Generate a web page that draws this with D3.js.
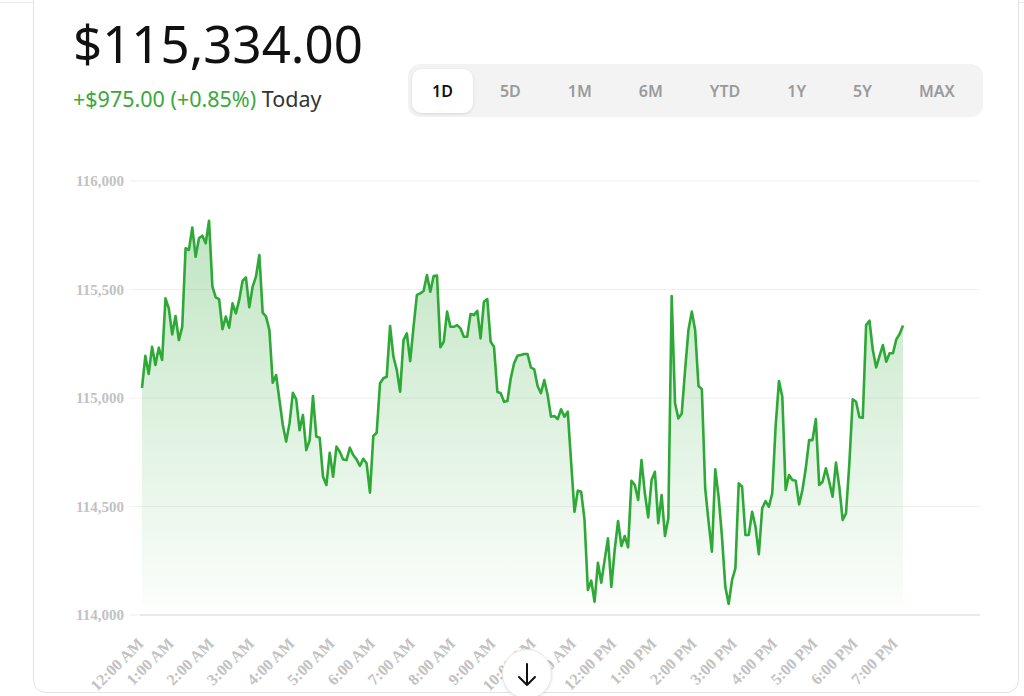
<!DOCTYPE html>
<html>
<head>
<meta charset="utf-8">
<script src="https://d3js.org/d3.v7.min.js"></script>
<style>
  body { margin: 0; background: #fff; }
  svg { display: block; }
</style>
</head>
<body>
<div id="chart"></div>
<script>
// 1D snapshot, one price every 5 minutes starting 12:15 AM
var startMinute = 15;
var stepMinutes = 5;
var prices = [
  115047, 115194, 115111, 115236, 115152, 115232, 115175, 115459, 115413, 115293,
  115378, 115267, 115328, 115690, 115682, 115786, 115651, 115736, 115748, 115713,
  115817, 115513, 115464, 115456, 115317, 115375, 115324, 115436, 115390, 115452,
  115540, 115556, 115418, 115513, 115559, 115659, 115393, 115375, 115313, 115070,
  115106, 114991, 114876, 114799, 114883, 115024, 114994, 114852, 114922, 114760,
  114806, 115009, 114822, 114817, 114637, 114599, 114748, 114637, 114776, 114752,
  114717, 114714, 114771, 114737, 114717, 114687, 114720, 114699, 114564, 114825,
  114840, 115068, 115091, 115098, 115332, 115190, 115129, 115029, 115267, 115298,
  115170, 115328, 115475, 115482, 115493, 115567, 115490, 115562, 115564, 115234,
  115259, 115398, 115328, 115328, 115336, 115321, 115282, 115282, 115387, 115382,
  115402, 115275, 115444, 115456, 115259, 115236, 115029, 115022, 114983, 114986,
  115091, 115160, 115195, 115198, 115203, 115203, 115141, 115132, 115055, 115022,
  115083, 115014, 114914, 114917, 114903, 114948, 114914, 114937, 114706, 114476,
  114573, 114568, 114438, 114115, 114158, 114061, 114241, 114149, 114253, 114353,
  114130, 114300, 114433, 114318, 114364, 114312, 114619, 114599, 114530, 114714,
  114561, 114450, 114622, 114660, 114423, 114553, 114364, 114446, 115470, 114976,
  114906, 114929, 115129, 115313, 115398, 115313, 115055, 115041, 114584, 114430,
  114292, 114671, 114545, 114361, 114130, 114051, 114161, 114215, 114607, 114591,
  114369, 114369, 114476, 114407, 114280, 114492, 114525, 114499, 114561, 114868,
  115078, 115006, 114576, 114645, 114622, 114619, 114510, 114576, 114676, 114806,
  114806, 114903, 114599, 114614, 114676, 114614, 114545, 114702, 114591, 114438,
  114469, 114699, 114994, 114983, 114911, 114909, 115336, 115356, 115221, 115141,
  115194, 115244, 115167, 115206, 115206, 115270, 115295, 115334
];

var yTicks = [114000, 114500, 115000, 115500, 116000];
var hourTicks = [15, 60, 120, 180, 240, 300, 360, 420, 480, 540, 600,
                 660, 720, 780, 840, 900, 960, 1020, 1080, 1140];
var hourLabels = ["12:00 AM", "1:00 AM", "2:00 AM", "3:00 AM", "4:00 AM",
                  "5:00 AM", "6:00 AM", "7:00 AM", "8:00 AM", "9:00 AM",
                  "10:00 AM", "11:00 AM", "12:00 PM", "1:00 PM", "2:00 PM",
                  "3:00 PM", "4:00 PM", "5:00 PM", "6:00 PM", "7:00 PM"];
var ranges = ["1D", "5D", "1M", "6M", "YTD", "1Y", "5Y", "MAX"];
var lastPrice = 115334;
var dayChange = 975;
var dayChangePct = 0.85;

var green = "#2ea836";
var width = 1024, height = 696;

var svg = d3.select("#chart").append("svg")
  .attr("width", width).attr("height", height);

var defs = svg.append("defs");
var shadow = defs.append("filter").attr("id", "soft")
  .attr("x", "-30%").attr("y", "-30%").attr("width", "160%").attr("height", "160%");
shadow.append("feDropShadow").attr("dx", 0).attr("dy", 1)
  .attr("stdDeviation", 1.5).attr("flood-color", "#000").attr("flood-opacity", 0.12);

// page frame
svg.append("line")
  .attr("x1", 0).attr("x2", width).attr("y1", 2.5).attr("y2", 2.5)
  .attr("stroke", "#ececec");
svg.append("rect")
  .attr("x", 33.5).attr("y", -20).attr("width", 985).attr("height", 712.5)
  .attr("rx", 12).attr("fill", "#fff").attr("stroke", "#e3e3e3");

// header
var money = d3.format(",.2f");
svg.append("text")
  .attr("x", 73).attr("y", 63)
  .style("font-family", "'Noto Sans', sans-serif")
  .style("font-size", "51px").attr("fill", "#111")
  .text("$" + money(lastPrice));

var sub = svg.append("text")
  .attr("x", 73).attr("y", 107)
  .style("font-family", "'Noto Sans', sans-serif")
  .style("font-size", "21.5px");
sub.append("tspan").attr("fill", "#3aa83c")
  .text("+$" + money(dayChange) + " (+" + dayChangePct.toFixed(2) + "%)");
sub.append("tspan").attr("fill", "#333").text(" Today");

// range tabs
var tabs = svg.append("g");
tabs.append("rect")
  .attr("x", 408).attr("y", 64).attr("width", 575).attr("height", 53)
  .attr("rx", 12).attr("fill", "#f3f3f3");
var cursor = 412, pad = 20, gap = 7;
ranges.forEach(function(r, i) {
  var t = tabs.append("text")
    .attr("y", 97).attr("text-anchor", "middle")
    .style("font-family", "'Noto Sans', sans-serif")
    .style("font-size", "16px").style("font-weight", 600)
    .attr("fill", i === 0 ? "#111" : "#9a9a9a")
    .text(r);
  var w = t.node().getComputedTextLength() + pad * 2;
  if (i === 0) {
    tabs.insert("rect", "text")
      .attr("x", cursor).attr("y", 69).attr("width", w).attr("height", 44)
      .attr("rx", 10).attr("fill", "#fff").attr("filter", "url(#soft)");
  }
  t.attr("x", cursor + w / 2);
  cursor += w + gap;
});

// chart
var x = d3.scaleLinear()
  .domain([startMinute, startMinute + (prices.length - 1) * stepMinutes])
  .range([142, 903]);
var y = d3.scaleLinear().domain([114000, 116000]).range([615, 181]);
var minute = function(d, i) { return startMinute + i * stepMinutes; };

svg.append("g").selectAll("line")
  .data(yTicks.slice(1))
  .join("line")
  .attr("x1", 130).attr("x2", 980)
  .attr("y1", function(d) { return y(d); })
  .attr("y2", function(d) { return y(d); })
  .attr("stroke", "#f0f0f0");

svg.append("line")
  .attr("x1", 130).attr("x2", 140).attr("y1", y(114000)).attr("y2", y(114000))
  .attr("stroke", "#f0f0f0");
svg.append("line")
  .attr("x1", 140).attr("x2", 980).attr("y1", y(114000)).attr("y2", y(114000))
  .attr("stroke", "#e2e2e2").attr("stroke-width", 1.5);

var yAxis = svg.append("g")
  .attr("transform", "translate(130,0)")
  .call(d3.axisLeft(y).tickValues(yTicks).tickSize(0).tickPadding(6)
    .tickFormat(d3.format(",")));
yAxis.select(".domain").remove();
yAxis.selectAll("text")
  .style("font-family", "'Liberation Serif', serif")
  .style("font-size", "15px").style("font-weight", "bold")
  .attr("fill", "#c2c2c2");

var low = d3.min(prices);
var grad = defs.append("linearGradient").attr("id", "fillGrad")
  .attr("gradientUnits", "userSpaceOnUse")
  .attr("x1", 0).attr("x2", 0)
  .attr("y1", y(d3.max(prices))).attr("y2", y(low));
grad.append("stop").attr("offset", 0).attr("stop-color", green).attr("stop-opacity", 0.3);
grad.append("stop").attr("offset", 1).attr("stop-color", green).attr("stop-opacity", 0.02);

var area = d3.area()
  .x(function(d, i) { return x(minute(d, i)); })
  .y0(y(low))
  .y1(function(d) { return y(d); });
var line = d3.line()
  .x(function(d, i) { return x(minute(d, i)); })
  .y(function(d) { return y(d); });

svg.append("path").datum(prices)
  .attr("d", area).attr("fill", "url(#fillGrad)");
svg.append("path").datum(prices)
  .attr("d", line).attr("fill", "none")
  .attr("stroke", green).attr("stroke-width", 2.6)
  .attr("stroke-linejoin", "round");

var xAxis = svg.append("g")
  .attr("transform", "translate(0," + y(114000) + ")")
  .call(d3.axisBottom(x).tickValues(hourTicks).tickSize(0)
    .tickFormat(function(d, i) { return hourLabels[i]; }));
xAxis.select(".domain").remove();
xAxis.selectAll("text")
  .attr("y", 0).attr("dy", 0)
  .attr("text-anchor", "end")
  .attr("transform", "translate(2,29.5) rotate(-45)")
  .style("font-family", "'Liberation Serif', serif")
  .style("font-size", "16px").style("font-weight", "bold")
  .attr("fill", "#c2c2c2");

// scroll-down button
var btn = svg.append("g").attr("transform", "translate(527,674)");
btn.append("circle").attr("r", 24.5)
  .attr("fill", "#fff").attr("stroke", "#e6e6e6").attr("filter", "url(#soft)");
btn.append("path")
  .attr("d", "M0,-10V11M-8,3L0,11L8,3")
  .attr("fill", "none").attr("stroke", "#111").attr("stroke-width", 2)
  .attr("stroke-linecap", "round").attr("stroke-linejoin", "round");
</script>
</body>
</html>
